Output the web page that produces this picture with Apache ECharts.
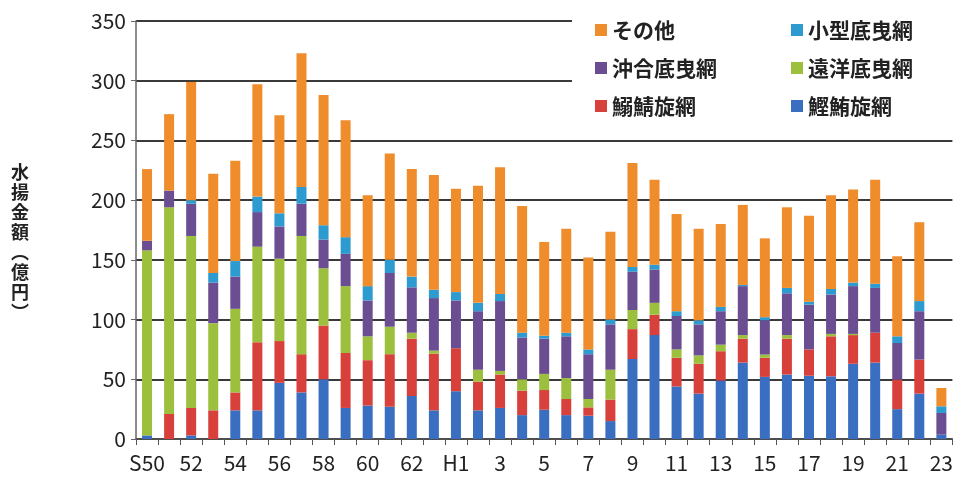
<!DOCTYPE html>
<html>
<head>
    <meta charset="utf-8" />
    <title>水揚金額</title>
    <script src="https://cdn.jsdelivr.net/npm/echarts@6/dist/echarts.min.js"></script>
    <style>
        html, body { margin: 0; padding: 0; background: #fff; }
    </style>
</head>
<body>
<div id="main" style="width: 956px;height:483px;"></div>

<script type="text/javascript">
    // 年次（S50〜S63, H1〜H23）
    var years = ['S50', '51', '52', '53', '54', '55', '56', '57', '58', '59', '60', '61', '62', '63',
        'H1', '2', '3', '4', '5', '6', '7', '8', '9', '10', '11', '12', '13', '14', '15', '16',
        '17', '18', '19', '20', '21', '22', '23'];
    var yTicks = [0, 50, 100, 150, 200, 250, 300, 350];

    // 漁業種類別 水揚金額（億円）
    var katsuoMaguro = [3, 0, 3, 0, 24, 24, 47, 39, 50, 26, 28, 27, 36, 24,
        40, 24, 26, 20, 24.5, 20, 19.5, 15, 67, 87, 44, 38, 49, 64, 52, 54, 53, 52.5, 63, 64, 25, 38, 3.6];
    var iwashiSaba = [0, 21, 23, 24, 15, 57, 35, 32, 45, 46, 38, 44, 48, 47.5,
        36, 24, 28, 20.5, 16.5, 13.5, 7, 18, 25, 17, 24, 25, 24.5, 20, 16, 30, 22, 33.5, 24, 25, 24.7, 28.5, 0];
    var enyoSoko = [155, 173, 144, 73, 70, 80, 69, 99, 48, 56, 20, 23, 5, 2.5,
        0, 10, 3, 9.5, 13.5, 17.5, 7, 25, 16, 10, 7, 7, 5.5, 3, 2.7, 3, 0, 2, 1, 0, 0, 0, 0];
    var okiaiSoko = [8, 14, 27, 34, 27, 29, 27, 27, 24, 27, 30, 45, 38, 44,
        40, 49, 58.5, 35, 29.5, 35, 37.5, 38, 32, 28, 28, 26, 28, 41, 28.7, 35, 37.5, 33, 40, 37.5, 30.7, 40.5, 18.2];
    var kogataSoko = [0, 0, 3, 8, 13, 13, 11, 14, 12, 14, 12, 11, 9, 7,
        7, 7, 6, 4, 2.5, 3, 4, 4, 4, 4, 4, 3.4, 3.6, 1, 2.6, 4.5, 2.5, 4.7, 3, 3.5, 5.6, 8.5, 5.6];
    var sonota = [60, 64, 99, 83, 84, 94, 82, 112, 109, 98, 76, 89, 90, 96,
        86.5, 98, 106, 106, 78.5, 87, 77, 73.5, 87, 71, 81.5, 76.6, 69.4, 67, 66, 67.5, 72, 78.3, 78, 87, 67, 66, 15.3];

    var myChart = echarts.init(document.getElementById('main'));

    var font = '"Noto Sans CJK JP", "Noto Sans", sans-serif';
    var legendText = { fontSize: 21, fontWeight: 'bold', color: '#222', fontFamily: font, lineHeight: 22 };

    function bar(name, data, color) {
        return {
            name: name,
            type: 'bar',
            stack: 'total',
            barWidth: 10,
            itemStyle: { color: color },
            data: data
        };
    }

    var option = {
        animation: false,
        backgroundColor: '#fff',
        grid: { left: 136, right: 2, top: 21, bottom: 44 },
        legend: [
            {
                orient: 'vertical',
                left: 590, top: 14,
                itemWidth: 12, itemHeight: 12, itemGap: 16,
                icon: 'rect',
                textStyle: legendText,
                data: ['その他', '沖合底曳網', '鰯鯖旋網']
            },
            {
                orient: 'vertical',
                left: 786, top: 14,
                itemWidth: 12, itemHeight: 12, itemGap: 16,
                icon: 'rect',
                textStyle: legendText,
                data: ['小型底曳網', '遠洋底曳網', '鰹鮪旋網']
            }
        ],
        graphic: [
            {
                type: 'rect', z: 3,
                shape: { x: 572, y: 0, width: 384, height: 128 },
                style: { fill: '#fff' }
            },
            {
                type: 'text', z: 5,
                x: 20, y: 242,
                style: {
                    text: '水\n揚\n金\n額\n︵\n億\n円\n︶',
                    fontSize: 18, fontWeight: 'bold', lineHeight: 20,
                    fontFamily: font, fill: '#222',
                    align: 'center', verticalAlign: 'middle'
                }
            }
        ],
        xAxis: {
            type: 'category',
            data: years,
            axisLine: { lineStyle: { color: '#555', width: 1.5 } },
            axisTick: { show: true, interval: 0, length: 6, lineStyle: { color: '#555' } },
            axisLabel: {
                interval: 1, margin: 14,
                fontSize: 21, color: '#222', fontFamily: font
            }
        },
        yAxis: {
            type: 'value',
            min: yTicks[0], max: yTicks[yTicks.length - 1], interval: 50,
            axisLine: { show: true, lineStyle: { color: '#666', width: 1.5 } },
            axisTick: { show: true, length: 5, lineStyle: { color: '#666' } },
            axisLabel: { margin: 10, fontSize: 21, color: '#222', fontFamily: font },
            splitLine: { lineStyle: { color: '#3a3a3a', width: 1.8 } }
        },
        series: [
            bar('鰹鮪旋網', katsuoMaguro, '#3a6ec0'),
            bar('鰯鯖旋網', iwashiSaba, '#d8403c'),
            bar('遠洋底曳網', enyoSoko, '#9cc03e'),
            bar('沖合底曳網', okiaiSoko, '#6b4e91'),
            bar('小型底曳網', kogataSoko, '#2e9bd0'),
            bar('その他', sonota, '#ef8c2c')
        ]
    };

    myChart.setOption(option);
</script>
</body>
</html>
